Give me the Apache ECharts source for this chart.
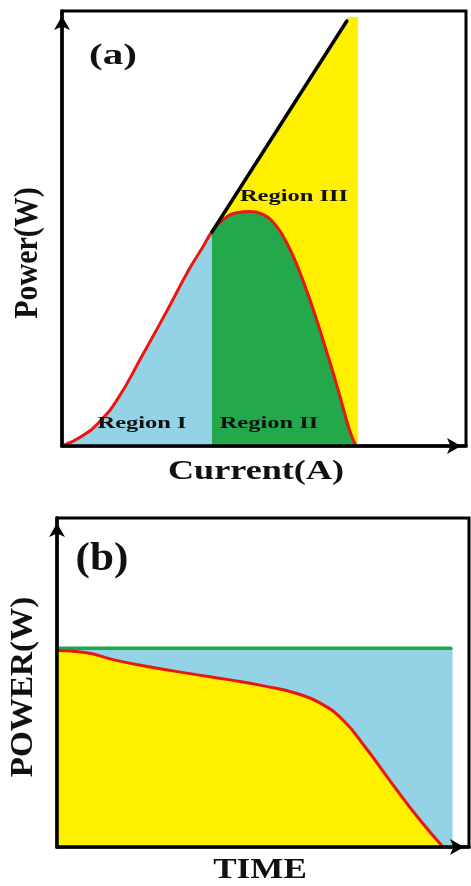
<!DOCTYPE html>
<html>
<head>
<meta charset="utf-8">
<script src="https://cdn.jsdelivr.net/npm/echarts@6/dist/echarts.min.js"></script>
<style>
  html, body { margin: 0; padding: 0; background: #fff; }
  #chart { width: 471px; height: 886px; }
</style>
</head>
<body>
<div id="chart"></div>
<script>
// panel (a): power vs current, axes run 0..100
var curveA = [[0,0],[5.0,2.3],[9.4,5.7],[13.9,11.0],[19.8,20.7],[25.7,30.6],[31.4,40.5],[34.7,45.5],[37.1,49.2],
  [40.1,52.2],[43.3,53.6],[46.5,53.9],[49.5,53.3],[52.2,51.5],[54.7,48.3],[57.2,43.7],[59.7,37.9],[62.4,30.8],
  [65.3,22.3],[67.8,14.7],[70.0,7.4],[71.5,2.8],[72.8,0]]
var splitA = 37.1 // region I / region II border
var maxLineA = [[37.1,49.2],[70.5,97.7]]
var region3Edge = [[37.1,49.2],[70.5,97.7],[70.5,98.6],[73.3,98.6],[73.3,0]]

// panel (b): power vs time
var maxLevelB = [[0,60.4],[95.6,60.4]]
var blueEdgeB = [[0,60.4],[96,60.4],[96,0]]
var curveB = [[0,59.7],[6.8,59.1],[14.1,56.8],[22.6,54.7],[32.3,52.7],[42.0,50.8],[50.5,48.9],[57.8,46.8],[63.8,43.8],
  [69.4,38.6],[74.8,30.4],[81.6,18.8],[88.1,8.2],[93.7,0]]

var BLUE = '#94d2e6', GREEN = '#23a84c', YELLOW = '#fff000', RED = '#e8170f'
var FONT = '"Liberation Serif", "Times New Roman", serif'
var SMOOTH = 0.5

function axis(grid) {
  return {
    type: 'value', gridIndex: grid, min: 0, max: 100, z: 10,
    axisLine: { show: true, onZero: false, symbol: ['none', 'arrow'], symbolSize: [12, 14], symbolOffset: [0, -5],
      lineStyle: { color: '#000', width: 3.5 } },
    axisTick: { show: false },
    axisLabel: { show: false },
    splitLine: { show: false }
  }
}

function area(data, grid, color, smooth) {
  return {
    type: 'line', xAxisIndex: grid, yAxisIndex: grid, data: data, smooth: smooth ? SMOOTH : false,
    symbol: 'none', lineStyle: { width: 0 }, areaStyle: { color: color, opacity: 1 }, silent: true
  }
}

function line(data, grid, color, width, smooth) {
  return {
    type: 'line', xAxisIndex: grid, yAxisIndex: grid, data: data, smooth: smooth ? SMOOTH : false,
    symbol: 'none', lineStyle: { color: color, width: width, cap: 'round' }, silent: true
  }
}

function label(text, x, y, size, sx, sy, rot) {
  return {
    type: 'text', x: x, y: y, rotation: rot || 0, scaleX: sx || 1, scaleY: sy || 1, z: 100,
    style: { text: text, font: 'bold ' + size + 'px ' + FONT, fill: '#111', align: 'center', verticalAlign: 'middle' }
  }
}

var myChart = echarts.init(document.getElementById('chart'))
myChart.setOption({
  animation: false,
  backgroundColor: '#fff',
  grid: [
    { left: 62, top: 11, width: 404, height: 435, show: true, borderColor: '#000', borderWidth: 3 },
    { left: 57, top: 518, width: 412, height: 329, show: true, borderColor: '#000', borderWidth: 3 }
  ],
  xAxis: [axis(0), axis(1)],
  yAxis: [axis(0), axis(1)],
  series: [
    area(region3Edge, 0, YELLOW, false),
    area(curveA.filter(function (p) { return p[0] <= splitA }), 0, BLUE, true),
    area(curveA.filter(function (p) { return p[0] >= splitA }), 0, GREEN, true),
    line(curveA, 0, RED, 3, true),
    line(maxLineA, 0, '#000', 3.5, false),

    area(blueEdgeB, 1, BLUE, false),
    area(curveB, 1, YELLOW, true),
    line(maxLevelB, 1, '#1fa64e', 3.5, false),
    line(curveB, 1, RED, 3, true)
  ],
  graphic: [
    label('(a)', 113, 56, 30, 1.37),
    label('Power(W)', 28, 253, 30, 1, 1.1, Math.PI / 2),
    label('Current(A)', 256, 472, 27, 1.34),
    label('Region I', 142, 424, 17, 1.44),
    label('Region II', 269, 424, 17, 1.44),
    label('Region III', 294, 197, 17, 1.44),
    label('(b)', 102, 560, 40, 1.08),
    label('POWER(W)', 24, 687, 31, 1.07, 1, Math.PI / 2),
    label('TIME', 260, 870, 30, 1.17)
  ]
})
</script>
</body>
</html>
